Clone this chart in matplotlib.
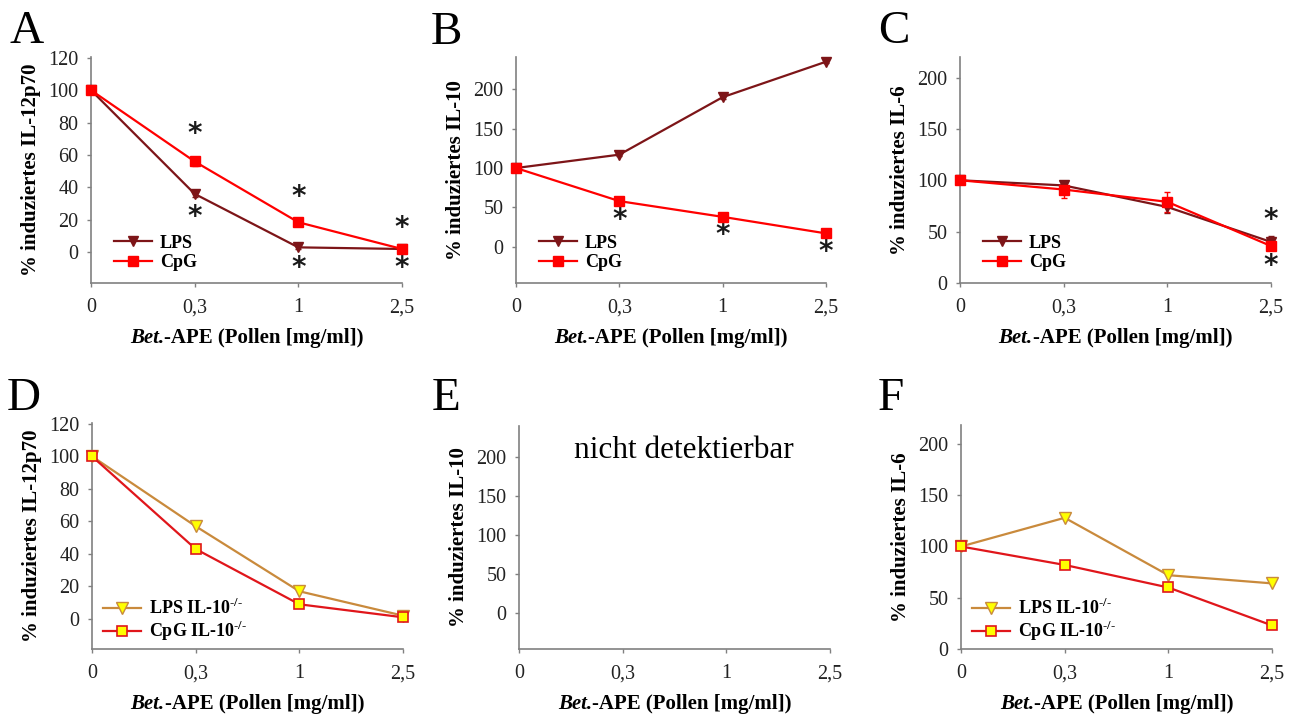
import numpy as np
import matplotlib
matplotlib.use("Agg")
import matplotlib.pyplot as plt
from matplotlib.lines import Line2D
from matplotlib.offsetbox import TextArea, HPacker, AnchoredOffsetbox

plt.rcParams['font.family'] = ['Liberation Serif', 'DejaVu Serif']
plt.rcParams['mathtext.fontset'] = 'custom'
plt.rcParams['mathtext.rm'] = 'Liberation Serif:bold'
plt.rcParams['mathtext.bf'] = 'Liberation Serif:bold'

# x categories (Bet.-APE, pollen mg/ml)
doses = ['0', '0,3', '1', '2,5']

# panel A: IL-12p70, wild type
a_lps = [100, 36, 3, 2]
a_lps_err = [0, 2, 1, 0]
a_cpg = [100, 56, 18.5, 2]
a_cpg_err = [0, 3, 1, 0]
a_stars = [(1, 73), (1, 22), (2, 34), (2, -10), (3, 15), (3, -10)]

# panel B: IL-10, wild type
b_lps = [100, 117, 190, 235]
b_lps_err = [0, 2, 2, 2]
b_cpg = [100, 58, 38, 17]
b_cpg_err = [0, 2, 2, 3]
b_stars = [(1, 34), (2, 15), (3, -6)]

# panel C: IL-6, wild type
c_lps = [100, 95, 74, 40]
c_lps_err = [0, 3, 6, 6]
c_cpg = [100, 91, 79, 36]
c_cpg_err = [0, 8, 10, 4]
c_stars = [(3, 61), (3, 17)]

# panels D-F: IL-10 -/- mice
d_lps = [100, 57, 17, 2]
d_cpg = [100, 43, 9, 1]
f_lps = [100, 128, 72, 64]
f_cpg = [100, 82, 60, 23]

LPS_C = '#7d1518'
CPG_C = '#ff0000'
LPS_KO = '#c98a3c'
CPG_KO = '#e0161b'
YEL = '#ffff00'
SPINE = '#808080'

fig = plt.figure(figsize=(12.93, 7.15), dpi=100)

W, H = 1293, 715
def box(left, top, right, bottom):
    return [left / W, 1 - bottom / H, (right - left) / W, (bottom - top) / H]

def style(ax, ylim, yticks, ylabel):
    x = np.arange(len(doses))
    ax.set_xlim(0, 3)
    ax.set_ylim(*ylim)
    ax.set_xticks(x)
    ax.set_xticklabels(doses)
    ax.set_yticks(yticks)
    for s in ['top', 'right']:
        ax.spines[s].set_visible(False)
    for s in ['left', 'bottom']:
        ax.spines[s].set_color(SPINE)
        ax.spines[s].set_linewidth(1.2)
    ax.tick_params(axis='both', colors=SPINE, labelcolor='#222222', labelsize=14.5,
                   length=3, width=1)
    ax.tick_params(axis='y', pad=6)
    ax.tick_params(axis='x', pad=8)
    ax.set_ylabel(ylabel, fontsize=15, fontweight='bold')
    ax.yaxis.set_label_coords(-0.162, 0.5)
    ax.set_facecolor('none')
    # x label with italic "Bet."
    t1 = TextArea("Bet.", textprops=dict(fontweight='bold', fontstyle='italic', fontsize=15))
    t2 = TextArea("-APE (Pollen [mg/ml])", textprops=dict(fontweight='bold', fontsize=15))
    hb = HPacker(children=[t1, t2], pad=0, sep=0, align='baseline')
    ab = AnchoredOffsetbox(loc='upper center', child=hb, pad=0, borderpad=0, frameon=False,
                           bbox_to_anchor=(0.5, -0.2), bbox_transform=ax.transAxes)
    ax.add_artist(ab)

def stars(ax, pts):
    for xi, yi in pts:
        ax.text(xi, yi, '*', fontsize=20, family='DejaVu Sans', fontweight='bold',
                ha='center', va='center', color='#1a1a1a')

def legend(ax, handles, labels, xy=(0.05, 0.02), spacing=0.15):
    ax.legend(handles, labels, loc='lower left', bbox_to_anchor=xy, frameon=False,
              prop=dict(weight='bold', size=13), handlelength=2.1, handletextpad=0.45,
              labelspacing=spacing, borderaxespad=0)

def wt(ax, lps, lps_err, cpg, cpg_err):
    for vals, err, col, mk in [(lps, lps_err, LPS_C, 'v'), (cpg, cpg_err, CPG_C, 's')]:
        ax.errorbar(x, vals, yerr=err, color=col, marker=mk, ms=7, lw=1.6,
                    capsize=2, elinewidth=1, clip_on=False, zorder=3)
    h = [Line2D([], [], color=LPS_C, marker='v', ms=7, lw=1.6),
         Line2D([], [], color=CPG_C, marker='s', ms=7, lw=1.6)]
    return h

def ko(ax, lps, cpg):
    ax.plot(x, lps, color=LPS_KO, marker='v', ms=8, mfc=YEL, mec=LPS_KO, mew=1, lw=1.6,
            clip_on=False, zorder=3)
    ax.plot(x, cpg, color=CPG_KO, marker='s', ms=7, mfc=YEL, mec=CPG_KO, mew=1.2, lw=1.6,
            clip_on=False, zorder=3)
    return ax.get_lines()

x = np.arange(len(doses))

# A
axA = fig.add_axes(box(91, 57, 402, 283))
h = wt(axA, a_lps, a_lps_err, a_cpg, a_cpg_err)
style(axA, (-19, 120.5), np.arange(0, 121, 20), '% induziertes IL-12p70')
legend(axA, h, ['LPS', 'CpG'])
stars(axA, a_stars)

# B
axB = fig.add_axes(box(516, 57, 826, 283))
h = wt(axB, b_lps, b_lps_err, b_cpg, b_cpg_err)
style(axB, (-46, 241), np.arange(0, 201, 50), '% induziertes IL-10')
legend(axB, h, ['LPS', 'CpG'])
stars(axB, b_stars)

# C
axC = fig.add_axes(box(960, 57, 1271, 283))
h = wt(axC, c_lps, c_lps_err, c_cpg, c_cpg_err)
style(axC, (0, 220), np.arange(0, 201, 50), '% induziertes IL-6')
legend(axC, h, ['LPS', 'CpG'])
stars(axC, c_stars)

ko_labels = [r'LPS IL-10$^{\text{-/-}}$', r'CpG IL-10$^{\text{-/-}}$']

# D
axD = fig.add_axes(box(92, 423, 403, 649))
h = ko(axD, d_lps, d_cpg)
style(axD, (-18.5, 120.5), np.arange(0, 121, 20), '% induziertes IL-12p70')
legend(axD, h, ko_labels, xy=(0.013, -0.005), spacing=0.05)

# E
axE = fig.add_axes(box(519, 426, 830, 649))
style(axE, (-46, 240), np.arange(0, 201, 50), '% induziertes IL-10')
axE.text(0.53, 0.89, 'nicht detektierbar', transform=axE.transAxes, fontsize=22.5,
         ha='center', va='center')

# F
axF = fig.add_axes(box(961, 425, 1272, 649))
h = ko(axF, f_lps, f_cpg)
style(axF, (0, 218.5), np.arange(0, 201, 50), '% induziertes IL-6')
legend(axF, h, ko_labels, xy=(0.013, -0.005), spacing=0.05)

# panel letters
for lab, px, py in [('A', 9, 43), ('B', 431, 44), ('C', 878, 43),
                    ('D', 7, 410), ('E', 432, 410), ('F', 878, 410)]:
    fig.text(px / W, 1 - py / H, lab, fontsize=34, ha='left', va='baseline')

fig.savefig('out.png', dpi=100)
